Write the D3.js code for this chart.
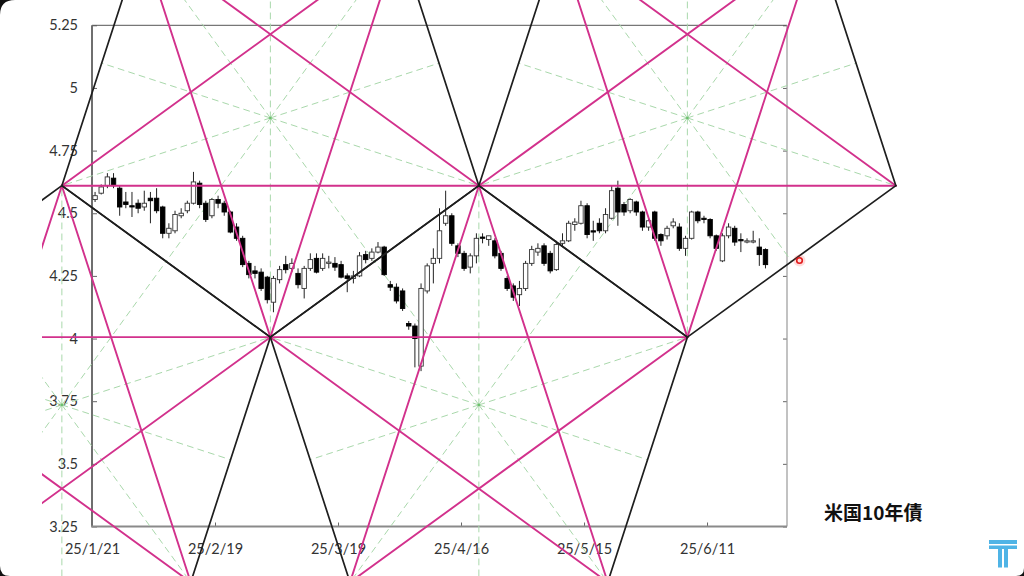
<!DOCTYPE html>
<html><head><meta charset="utf-8">
<script src="https://cdn.jsdelivr.net/npm/d3@7/dist/d3.min.js"></script>
<style>
html,body{margin:0;padding:0;background:#fff;}
svg{display:block;}
</style></head>
<body>
<svg id="c" width="1024" height="576"></svg>
<script>
// ---- data (US 10Y yield, daily candles) ----
const opens  = [4.555,4.580,4.610,4.640,4.600,4.545,4.530,4.540,4.525,4.560,4.560,4.525,4.420,4.430,4.490,4.510,4.540,4.620,4.540,4.490,
                4.555,4.540,4.505,4.445,4.400,4.300,4.270,4.265,4.245,4.145,4.235,4.295,4.280,4.260,4.200,4.280,4.320,4.280,4.300,4.300,
                4.295,4.250,4.240,4.250,4.335,4.320,4.345,4.365,4.215,4.205,4.190,4.060,4.050,3.890,4.190,4.300,4.320,4.460,4.490,4.370,
                4.340,4.285,4.330,4.405,4.395,4.390,4.340,4.240,4.210,4.175,4.200,4.300,4.345,4.370,4.340,4.275,4.380,4.390,4.455,4.460,
                4.530,4.430,4.460,4.430,4.480,4.600,4.535,4.510,4.545,4.505,4.445,4.505,4.415,4.410,4.450,4.445,4.360,4.400,4.505,4.480,
                4.475,4.410,4.310,4.410,4.440,4.395,4.385,4.385,4.365,4.355];
const highs  = [4.585,4.615,4.660,4.660,4.610,4.585,4.585,4.555,4.590,4.585,4.600,4.530,4.460,4.510,4.520,4.550,4.665,4.630,4.550,4.560,
                4.570,4.550,4.510,4.460,4.410,4.310,4.290,4.280,4.250,4.250,4.290,4.330,4.320,4.280,4.290,4.340,4.340,4.340,4.330,4.325,
                4.310,4.260,4.270,4.345,4.350,4.360,4.385,4.370,4.230,4.220,4.200,4.070,4.060,4.220,4.300,4.360,4.520,4.590,4.500,4.380,
                4.350,4.340,4.420,4.420,4.410,4.400,4.350,4.250,4.220,4.230,4.310,4.370,4.380,4.380,4.350,4.390,4.420,4.470,4.480,4.550,
                4.540,4.470,4.480,4.520,4.610,4.630,4.545,4.560,4.550,4.510,4.480,4.510,4.420,4.450,4.480,4.460,4.410,4.510,4.510,4.490,
                4.480,4.415,4.420,4.460,4.450,4.420,4.400,4.430,4.400,4.360];
const lows   = [4.545,4.575,4.600,4.600,4.490,4.520,4.485,4.500,4.510,4.460,4.500,4.400,4.400,4.420,4.480,4.500,4.535,4.520,4.465,4.480,
                4.520,4.490,4.420,4.390,4.285,4.240,4.240,4.190,4.140,4.105,4.220,4.260,4.265,4.200,4.160,4.270,4.260,4.270,4.280,4.270,
                4.240,4.185,4.220,4.245,4.300,4.310,4.340,4.250,4.190,4.140,4.110,4.035,3.885,3.870,4.180,4.220,4.300,4.450,4.370,4.325,
                4.270,4.260,4.300,4.380,4.370,4.320,4.270,4.190,4.150,4.130,4.190,4.290,4.330,4.290,4.260,4.270,4.370,4.385,4.430,4.455,
                4.400,4.390,4.420,4.420,4.475,4.450,4.490,4.500,4.490,4.430,4.430,4.390,4.370,4.395,4.440,4.350,4.330,4.395,4.460,4.460,
                4.400,4.350,4.305,4.400,4.370,4.345,4.380,4.380,4.290,4.280];
const closes = [4.570,4.605,4.645,4.610,4.525,4.535,4.525,4.520,4.540,4.550,4.510,4.420,4.440,4.495,4.500,4.540,4.625,4.535,4.475,4.555,
                4.540,4.505,4.425,4.400,4.295,4.255,4.260,4.200,4.155,4.240,4.275,4.275,4.300,4.215,4.280,4.315,4.265,4.320,4.305,4.285,
                4.245,4.240,4.250,4.330,4.315,4.345,4.365,4.255,4.205,4.150,4.120,4.050,4.000,4.200,4.290,4.320,4.430,4.490,4.380,4.340,
                4.280,4.330,4.400,4.400,4.410,4.330,4.280,4.200,4.165,4.200,4.300,4.355,4.360,4.300,4.270,4.375,4.390,4.460,4.465,4.530,
                4.415,4.425,4.430,4.495,4.590,4.505,4.505,4.555,4.505,4.445,4.470,4.400,4.390,4.440,4.465,4.360,4.400,4.505,4.470,4.475,
                4.410,4.360,4.410,4.445,4.385,4.390,4.390,4.390,4.335,4.295];
const xTickIdx    = [0,20,40,60,80,100];
const xTickLabels = ["25/1/21","25/2/19","25/3/19","25/4/16","25/5/15","25/6/11"];
const yTicks      = [3.25,3.5,3.75,4,4.25,4.5,4.75,5,5.25];
const yTickLabels = ["3.25","3.5","3.75","4","4.25","4.5","4.75","5","5.25"];
const slotCount = 113;
const title = "米国10年債";
// drawn star overlay anchors (slot index / yield)
const starRowValue   = 4.61;
const downStarSlots  = [29.0, 96.8];   // down-pointing stars (bottom-tip slot)
const upStarSlots    = [-4.9, 62.9];   // up-pointing stars (top-tip slot)

// ---- scales ----
const svg = d3.select('#c');
const x = d3.scaleLinear().domain([0, slotCount]).range([92, 787]);
const y = d3.scaleLinear().domain([3.25, 5.25]).range([526.5, 25.3]);
const n = opens.length;

// ---- axes ----
const fontAx = "Lato, 'Open Sans', sans-serif";
const ax = svg.append('g').attr('transform','translate(92,0)')
  .call(d3.axisLeft(y).tickValues(yTicks).tickSize(-5).tickPadding(14)
        .tickFormat((d,i)=>yTickLabels[i]));
const axr = svg.append('g').attr('transform','translate(787,0)')
  .call(d3.axisRight(y).tickValues(yTicks).tickSize(-4).tickFormat(''));
const axb = svg.append('g').attr('transform','translate(0,526.5)')
  .call(d3.axisBottom(x).tickValues(xTickIdx).tickSize(-4).tickPadding(17.5)
        .tickFormat((d,i)=>xTickLabels[i]));
[ax,axr,axb].forEach(a=>{
  a.select('.domain').remove();
  a.selectAll('.tick line').attr('stroke','#666');
  a.selectAll('text').attr('font-family',fontAx).attr('font-size','14.5px').attr('fill','#333');
});
// frame
const [x0,x1] = x.range(), [yb,yt] = y.range();
svg.append('line').attr('x1',x0).attr('x2',x1).attr('y1',yt).attr('y2',yt).attr('stroke','#555').attr('stroke-width',1);
svg.append('line').attr('x1',x1).attr('x2',x1).attr('y1',yt).attr('y2',yb).attr('stroke','#999').attr('stroke-width',1.2);
svg.append('line').attr('x1',x0).attr('x2',x0).attr('y1',yt).attr('y2',yb).attr('stroke','#6f6f6f').attr('stroke-width',2);
svg.append('line').attr('x1',x0-1).attr('x2',x1).attr('y1',yb).attr('y2',yb).attr('stroke','#8a8a8a').attr('stroke-width',2.2);

// ---- star geometry (regular pentagrams, built from anchors through the scales) ----
const deg = Math.PI/180;
const halfW = (x(upStarSlots[1]) - x(upStarSlots[0]))/2;
const R = halfW/Math.sin(72*deg);
const yRow = y(starRowValue);
function star(slot, down){
  const cx = x(slot);
  const cy = down ? yRow - R*Math.sin(18*deg) : yRow + R;
  const a0 = down ? 90 : -90;
  const tips = d3.range(5).map(k=>[cx + R*Math.cos((a0+72*k)*deg), cy + R*Math.sin((a0+72*k)*deg)]);
  const rays = d3.range(10).map(k=>{
    const L = k%2 ? R*Math.cos(36*deg) : R;
    return [[cx,cy],[cx + L*Math.cos((a0+36*k)*deg), cy + L*Math.sin((a0+36*k)*deg)]];
  });
  const edges = d3.range(5).map(k=>[tips[k], tips[(k+1)%5]]);
  const chords = d3.range(5).map(k=>[tips[k], tips[(k+2)%5]]);
  return {cx, cy, rays, edges, chords};
}
const stars = downStarSlots.map(s=>star(s,true)).concat(upStarSlots.map(s=>star(s,false)));

svg.append('clipPath').attr('id','ov').append('rect').attr('x',42).attr('y',0).attr('width',982).attr('height',576);
const ov = svg.append('g').attr('clip-path','url(#ov)');
const segLine = (g,segs,stroke,w,dash)=>g.selectAll(null).data(segs).join('line')
  .attr('x1',d=>d[0][0]).attr('y1',d=>d[0][1]).attr('x2',d=>d[1][0]).attr('y2',d=>d[1][1])
  .attr('stroke',stroke).attr('stroke-width',w).attr('stroke-dasharray',dash||null).attr('stroke-linecap','round');

// green dashed rays (under candles)
const gRays = ov.append('g');
segLine(gRays, stars.flatMap(s=>s.rays), '#a9d8ab', 1, '6,5');
gRays.selectAll('circle').data(stars).join('circle').attr('cx',d=>d.cx).attr('cy',d=>d.cy).attr('r',1.3).attr('fill','#6cc06c');

// ---- candles ----
const step = x(1)-x(0), bw = step*0.72;
const cg = svg.append('g');
cg.selectAll('line').data(d3.range(n)).join('line')
  .attr('x1',i=>x(i+0.5)).attr('x2',i=>x(i+0.5))
  .attr('y1',i=>y(highs[i])).attr('y2',i=>y(lows[i]))
  .attr('stroke','#222').attr('stroke-width',1);
cg.selectAll('rect').data(d3.range(n)).join('rect')
  .attr('x',i=>x(i+0.5)-bw/2).attr('width',bw)
  .attr('y',i=>y(Math.max(opens[i],closes[i])))
  .attr('height',i=>Math.max(1, y(Math.min(opens[i],closes[i])) - y(Math.max(opens[i],closes[i]))))
  .attr('fill',i=>closes[i]>=opens[i] ? '#fff' : '#000')
  .attr('stroke',i=>closes[i]>=opens[i] ? '#333' : '#000').attr('stroke-width',0.9);

// magenta star chords, black pentagon edges
const ov2 = svg.append('g').attr('clip-path','url(#ov)');
segLine(ov2.append('g'), stars.flatMap(s=>s.chords), '#d2318c', 1.9);
segLine(ov2.append('g'), stars.flatMap(s=>s.edges), '#1e1e1e', 1.7);

// ---- title & decorations ----
svg.append('text').attr('x',824).attr('y',520).text(title)
  .attr('font-family',"'Noto Sans CJK JP', sans-serif").attr('font-weight','bold')
  .attr('font-size','19px').attr('fill','#111');
// pointer dot
svg.append('circle').attr('cx',799.5).attr('cy',260.5).attr('r',6).attr('fill','rgba(255,60,60,0.18)');
svg.append('circle').attr('cx',799.5).attr('cy',260.5).attr('r',2.8).attr('fill','#fdd').attr('stroke','#e21b1b').attr('stroke-width',1.6);
// logo
const logo = svg.append('g').attr('fill','#4fb4e6');
logo.append('rect').attr('x',989).attr('y',540).attr('width',28).attr('height',4);
logo.append('rect').attr('x',989).attr('y',545.5).attr('width',28).attr('height',3.5);
logo.append('rect').attr('x',998).attr('y',549).attr('width',4).attr('height',18.5);
logo.append('rect').attr('x',1004).attr('y',549).attr('width',4).attr('height',18.5);
// rounded frame corners
svg.append('path').attr('d','M0,0 L15,0 Q0,0 0,15 Z').attr('fill','#111');
svg.append('path').attr('d','M0,576 L0,566 Q0,576 10,576 Z').attr('fill','#111');
svg.append('path').attr('d','M1024,576 L1016,576 Q1024,576 1024,568 Z').attr('fill','#111');
</script>
</body></html>
